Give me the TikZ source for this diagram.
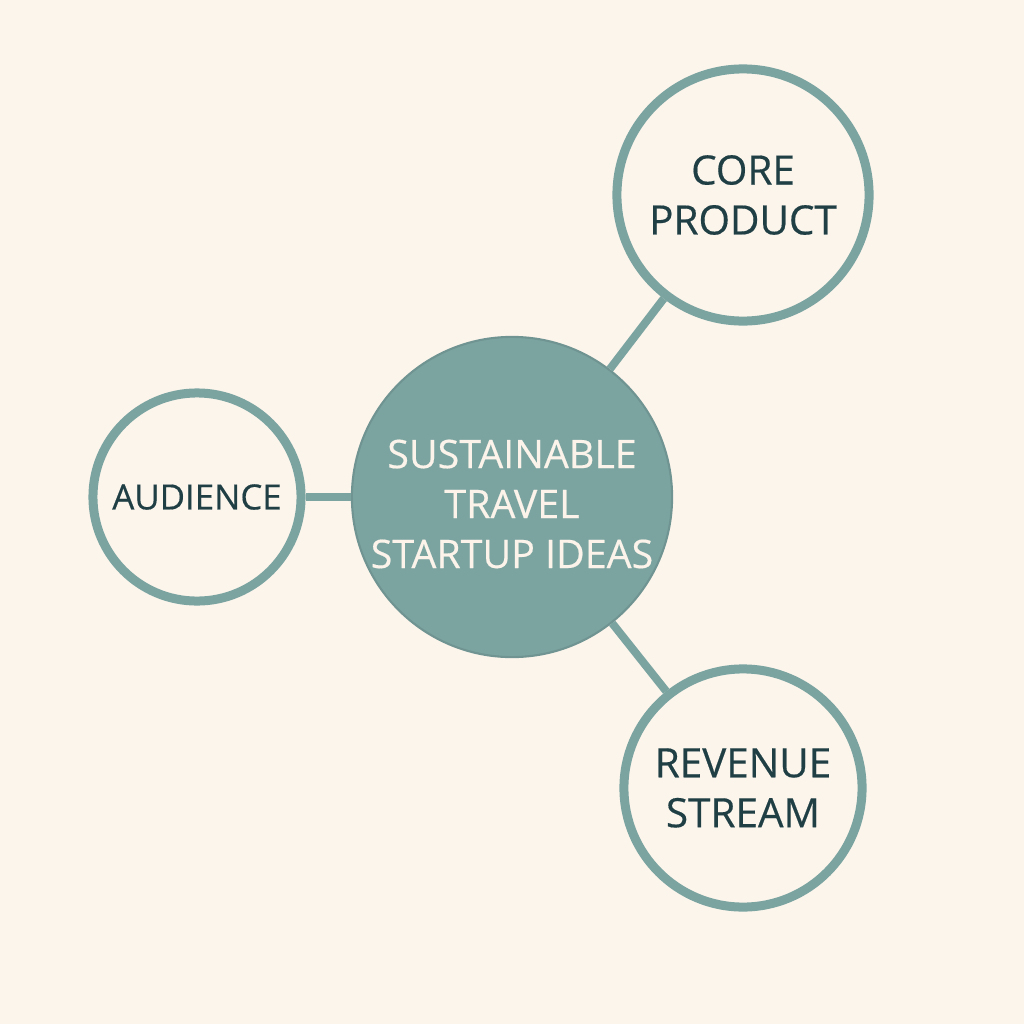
\documentclass[tikz,border=0pt]{standalone}
\usepackage{fontspec}
\setmainfont{Open Sans}[BoldFont=Open Sans, BoldFeatures={FakeBold=0.4}]
\definecolor{cream}{HTML}{FCF5EC}
\definecolor{teal}{HTML}{7BA4A1}
\definecolor{ink}{HTML}{1F3F45}
\definecolor{pale}{HTML}{FCF4EA}
\tikzset{
  hub/.style={circle, fill=teal, draw=teal!90!black, line width=0.6pt, minimum size=3.2cm, inner sep=0pt},
  hubtext/.style={text=pale, align=center, inner sep=0pt, font=\bfseries\fontsize{11.2}{14.2}\selectfont},
  idea/.style={circle, draw=teal, fill=cream, line width=0.09cm, inner sep=0pt,
    text=ink, align=center, font=\bfseries\fontsize{11.5}{14.2}\selectfont},
  link/.style={draw=teal, line width=0.08cm}
}
\begin{document}
\begin{tikzpicture}[x=0.01cm, y=-0.01cm]
    \fill[cream] (0,0) rectangle (1024,1024);
    \useasboundingbox (0,0) rectangle (1024,1024);
    \node[hub] (hub) at (512,497) {};
    \node[hubtext] (hubtext) at ([yshift=-0.07cm]hub.center) {SUSTAINABLE\\TRAVEL\\STARTUP IDEAS};
    \node[idea, minimum size=2.52cm] (core) at (743,195) {CORE\\PRODUCT};
    \node[idea, minimum size=2.08cm, font=\bfseries\fontsize{9.9}{12}\selectfont] (aud) at (197,497) {AUDIENCE};
    \node[idea, minimum size=2.38cm] (rev) at (743,788) {REVENUE\\STREAM};
    \draw[link] (hub) -- (core);
    \draw[link] (hub) -- (aud);
    \draw[link] (hub) -- (rev);
\end{tikzpicture}
\end{document}
